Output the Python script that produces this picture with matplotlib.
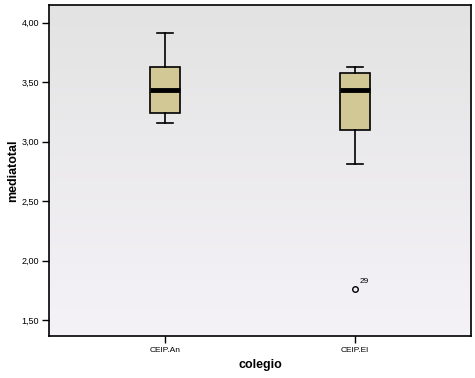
import matplotlib
matplotlib.use("Agg")
import matplotlib.pyplot as plt
import numpy as np

plt.rcParams['font.family'] = ['Liberation Sans', 'DejaVu Sans']

categories = ["CEIP.An", "CEIP.El"]
whislo = [3.156, 2.81]
q1 = [3.24, 3.095]
med = [3.434, 3.434]
q3 = [3.625, 3.575]
whishi = [3.91, 3.625]
fliers = [[], [1.758]]
flier_labels = [[], ["29"]]
yticks = [1.50, 2.00, 2.50, 3.00, 3.50, 4.00]

fig = plt.figure(figsize=(4.75, 3.78), dpi=100)
ax = fig.add_axes([49/475, 1-336/378, (471-49)/475, (336-5)/378])

# background gradient (gray top, pale pastel bottom)
top = np.array([0.89, 0.89, 0.89])
bot = np.array([0.96, 0.95, 0.97])
t = np.linspace(0, 1, 256)[:, None]
grad = top * (1 - t) + bot * t
grad = np.repeat(grad[:, None, :], 2, axis=1)
ax.imshow(grad, extent=[0, 1, 0, 1], transform=ax.transAxes, aspect='auto', zorder=0)

stats = []
for i in range(len(categories)):
    stats.append(dict(whislo=whislo[i], q1=q1[i], med=med[i], q3=q3[i],
                      whishi=whishi[i], fliers=fliers[i], label=categories[i]))

ax.bxp(stats, positions=[1, 2], widths=0.158, patch_artist=True,
       boxprops=dict(facecolor='#d2c896', edgecolor='black', linewidth=1.2),
       medianprops=dict(color='black', linewidth=3.5),
       whiskerprops=dict(color='black', linewidth=1.2),
       capprops=dict(color='black', linewidth=1.2),
       capwidths=0.08,
       flierprops=dict(marker='o', markersize=4, markerfacecolor='none',
                       markeredgecolor='black', markeredgewidth=1),
       zorder=3)

for i in range(len(categories)):
    for v, lab in zip(fliers[i], flier_labels[i]):
        ax.annotate(lab, (i + 1, v), xytext=(3, 3), textcoords='offset points',
                    fontsize=6, ha='left', va='bottom')

ax.set_xlim(0.39, 2.61)
ax.set_ylim(1.365, 4.149)
ax.set_yticks(yticks)
ax.set_yticklabels([f"{v:.2f}".replace('.', ',') for v in yticks], fontsize=6.5)
ax.set_xticks([1, 2])
ax.set_xticklabels(categories, fontsize=6)
ax.tick_params(axis='both', direction='out', length=5, width=1)
ax.tick_params(axis='y', pad=2)
ax.tick_params(axis='x', pad=3)
ax.set_ylabel("mediatotal", fontsize=9, fontweight='bold', va='center')
ax.yaxis.set_label_coords((13 - 49) / 422, 0.5)
ax.set_xlabel("colegio", fontsize=9, fontweight='bold', va='center')
ax.xaxis.set_label_coords(0.5, (336 - 365) / 331)
for s in ax.spines.values():
    s.set_linewidth(1.2)

fig.savefig("out.png", dpi=100)
